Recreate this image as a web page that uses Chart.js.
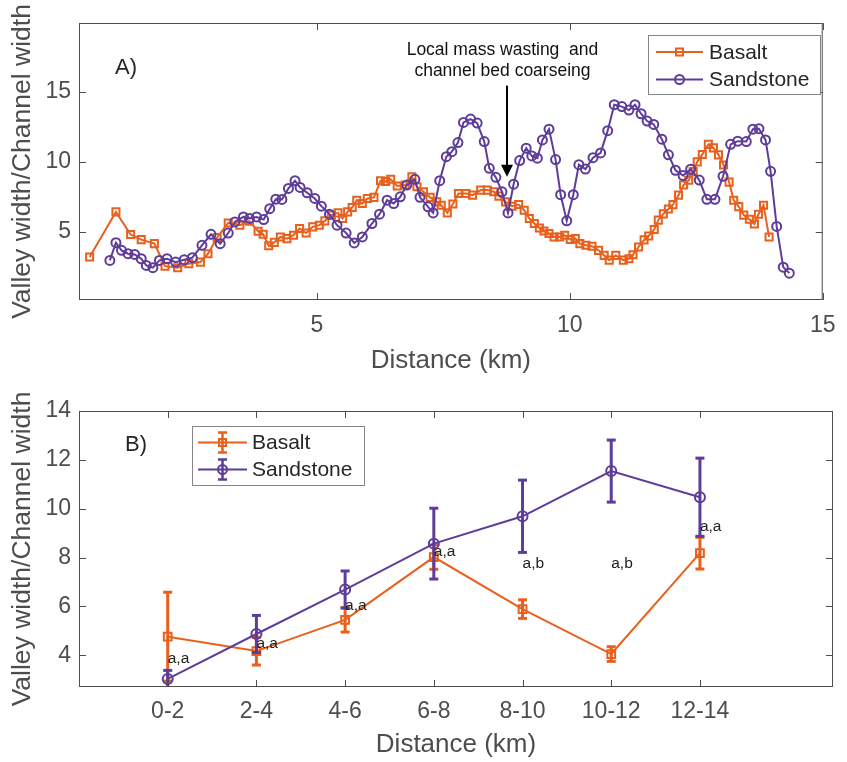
<!DOCTYPE html>
<html>
<head>
<meta charset="utf-8">
<script src="https://cdn.jsdelivr.net/npm/chart.js@4/dist/chart.umd.min.js"></script>
<style>
	body { margin: 0; background: #fff; }
	.panel { position: absolute; left: 0; }
</style>
</head>
<body>
<div class="panel" style="top:0"><canvas id="chartA" width="847" height="380"></canvas></div>
<div class="panel" style="top:380px"><canvas id="chartB" width="847" height="382"></canvas></div>
<script>
// A) valley/channel width ratio along the profile
const basaltKm = [0.51, 1.03, 1.32, 1.53, 1.79, 2.00, 2.25, 2.47, 2.70, 2.85, 3.03, 3.25, 3.48, 3.67, 3.84, 3.94,
	4.05, 4.16, 4.28, 4.41, 4.54, 4.66, 4.79, 4.92, 5.05, 5.16, 5.29, 5.42, 5.51, 5.61, 5.70, 5.79, 5.90, 6.00,
	6.13, 6.26, 6.36, 6.46, 6.59, 6.75, 6.88, 6.98, 7.11, 7.24, 7.37, 7.46, 7.58, 7.69, 7.80, 7.95, 8.08, 8.24,
	8.37, 8.50, 8.60, 8.73, 8.86, 8.99, 9.10, 9.20, 9.30, 9.40, 9.49, 9.59, 9.69, 9.80, 9.90, 10.01, 10.11,
	10.20, 10.32, 10.44, 10.57, 10.68, 10.78, 10.91, 11.06, 11.17, 11.25, 11.36, 11.47, 11.56, 11.67, 11.75,
	11.85, 11.95, 12.04, 12.15, 12.25, 12.35, 12.44, 12.52, 12.62, 12.74, 12.84, 12.94, 13.04, 13.15, 13.24,
	13.34, 13.44, 13.55, 13.65, 13.73, 13.83, 13.94];
const basaltRatio = [3.19, 6.42, 4.80, 4.44, 4.15, 2.54, 2.43, 2.72, 2.83, 3.43, 4.58, 5.63, 5.47, 5.75, 5.04, 4.82,
	4.00, 4.24, 4.63, 4.51, 4.75, 5.23, 4.91, 5.35, 5.47, 5.78, 6.19, 6.35, 5.95, 6.42, 6.74, 7.26, 7.02, 7.38,
	7.46, 8.65, 8.60, 8.75, 8.27, 8.34, 8.94, 8.22, 7.86, 7.46, 7.14, 6.90, 6.35, 6.98, 7.74, 7.74, 7.62, 7.98,
	7.98, 7.86, 7.55, 7.14, 6.83, 6.95, 6.54, 5.95, 5.59, 5.27, 5.06, 4.87, 4.63, 4.63, 4.75, 4.45, 4.51,
	4.15, 4.03, 3.97, 3.67, 3.31, 2.97, 3.31, 2.97, 3.07, 3.35, 3.91, 4.42, 4.70, 5.16, 5.83,
	6.28, 6.63, 6.94, 7.62, 8.34, 8.68, 9.30, 10.00, 10.53, 11.25, 11.00, 10.50, 9.78, 8.55, 7.26,
	6.80, 6.19, 5.90, 5.56, 6.25, 6.90, 4.63];

const sandKm = [0.91, 1.03, 1.14, 1.27, 1.40, 1.53, 1.63, 1.76, 1.89, 2.04, 2.21, 2.38, 2.54, 2.73, 2.91, 3.09,
	3.25, 3.38, 3.55, 3.67, 3.81, 3.95, 4.07, 4.19, 4.31, 4.44, 4.57, 4.67, 4.81, 4.96, 5.09, 5.25, 5.40, 5.58,
	5.74, 5.90, 6.09, 6.24, 6.39, 6.52, 6.65, 6.78, 6.94, 7.04, 7.20, 7.30, 7.43, 7.56, 7.67, 7.79, 7.90, 8.04,
	8.17, 8.31, 8.41, 8.54, 8.66, 8.78, 8.89, 9.01, 9.14, 9.25, 9.36, 9.46, 9.59, 9.72, 9.82, 9.94, 10.07,
	10.18, 10.31, 10.46, 10.61, 10.75, 10.88, 11.03, 11.17, 11.29, 11.41, 11.53, 11.66, 11.82, 11.95, 12.09,
	12.24, 12.39, 12.56, 12.71, 12.87, 13.03, 13.18, 13.32, 13.49, 13.62, 13.74, 13.87, 13.97, 14.09, 14.22, 14.34];
const sandRatio = [2.95, 4.22, 3.67, 3.43, 3.38, 3.07, 2.59, 2.43, 2.95, 3.07, 2.83, 3.00, 3.15, 4.03, 4.82, 4.15,
	4.91, 5.70, 6.06, 5.95, 6.06, 5.87, 6.65, 7.33, 7.31, 8.10, 8.65, 8.17, 7.79, 7.38, 6.83, 6.26, 5.47, 4.91,
	4.20, 4.63, 5.59, 6.26, 7.26, 7.02, 7.50, 8.34, 8.75, 7.46, 6.78, 6.35, 8.65, 10.37, 10.73, 11.38, 12.82, 13.06,
	12.77, 11.45, 9.54, 8.89, 7.86, 6.35, 8.40, 10.09, 10.98, 10.42, 10.26, 11.57, 12.34, 10.16, 7.65, 5.78, 7.65,
	9.80, 9.48, 10.30, 10.64, 12.23, 14.09, 13.95, 13.70, 14.09, 13.44, 12.92, 12.68, 11.62, 10.50, 9.40,
	9.02, 9.47, 8.70, 7.32, 7.32, 8.97, 11.25, 11.48, 11.45, 12.34, 12.37, 11.57, 9.32, 5.38, 2.47, 2.04];

const kmTicks = [5, 10, 15];
const ratioTicksA = [5, 10, 15];
const noteLines = ['Local mass wasting  and', 'channel bed coarseing'];

// B) means per 2 km bin
const bins = ['0-2', '2-4', '4-6', '6-8', '8-10', '10-12', '12-14'];
const basaltMean = [4.76, 4.17, 5.45, 8.02, 5.89, 4.05, 8.18];
const basaltErr = [1.82, 0.57, 0.50, 0.50, 0.38, 0.30, 0.65];
const sandMean = [3.03, 4.87, 6.69, 8.57, 9.69, 11.54, 10.47];
const sandErr = [0.35, 0.76, 0.76, 1.45, 1.48, 1.27, 1.60];
const groupLetters = ['a,a', 'a,a', 'a,a', 'a,a', 'a,b', 'a,b', 'a,a'];
const letterRatio = [3.84, 4.46, 6.01, 8.23, 7.76, 7.76, 9.28];
const ratioTicksB = [4, 6, 8, 10, 12, 14];

const ORANGE = '#e8601c';
const PURPLE = '#5e3c99';
const AXIS = '#4d4d4d';
const FONT = '"Liberation Sans", Arial, Helvetica, sans-serif';

const pts = (xs, ys) => xs.map((v, i) => ({ x: v, y: ys[i] }));

function line(ctx, x1, y1, x2, y2) {
	ctx.beginPath();
	ctx.moveTo(x1, y1);
	ctx.lineTo(x2, y2);
	ctx.stroke();
}

function marker(ctx, style, x, y, r) {
	ctx.beginPath();
	if (style === 'rect') {
		const s = r * Math.SQRT1_2;
		ctx.rect(x - s, y - s, 2 * s, 2 * s);
	} else {
		ctx.arc(x, y, r, 0, Math.PI * 2);
	}
	ctx.stroke();
}

// box round the plot with inward ticks on all four sides
const frame = {
	id: 'frame',
	afterDraw(chart) {
		const { ctx, chartArea: a, scales } = chart;
		ctx.save();
		ctx.strokeStyle = AXIS;
		ctx.lineWidth = 1;
		ctx.strokeRect(a.left + 0.5, a.top + 0.5, a.width - 1, a.height - 1);
		scales.x.ticks.forEach(function (t) {
			const px = Math.round(scales.x.getPixelForValue(t.value)) + 0.5;
			line(ctx, px, a.bottom, px, a.bottom - 7);
			line(ctx, px, a.top, px, a.top + 7);
		});
		scales.y.ticks.forEach(function (t) {
			const py = Math.round(scales.y.getPixelForValue(t.value)) + 0.5;
			line(ctx, a.left, py, a.left + 7, py);
			line(ctx, a.right, py, a.right - 7, py);
		});
		ctx.restore();
	}
};

// legend box inside the axes
const boxLegend = {
	id: 'boxLegend',
	afterDraw(chart, args, opts) {
		const ctx = chart.ctx;
		const b = opts.box;
		ctx.save();
		ctx.fillStyle = '#fff';
		ctx.fillRect(b[0], b[1], b[2], b[3]);
		ctx.strokeStyle = '#858585';
		ctx.lineWidth = 1;
		ctx.strokeRect(b[0] + 0.5, b[1] + 0.5, b[2], b[3]);
		opts.items.forEach(function (it, i) {
			const y = opts.rowY[i];
			const mid = (opts.lineX[0] + opts.lineX[1]) / 2;
			ctx.strokeStyle = it.color;
			ctx.lineWidth = 2;
			line(ctx, opts.lineX[0], y, opts.lineX[1], y);
			if (opts.errorBar) {
				ctx.lineWidth = 2.5;
				line(ctx, mid, y - 10, mid, y + 10);
				line(ctx, mid - 4.5, y - 10, mid + 4.5, y - 10);
				line(ctx, mid - 4.5, y + 10, mid + 4.5, y + 10);
			}
			ctx.lineWidth = 2;
			marker(ctx, it.style, mid, y, it.r);
			ctx.fillStyle = '#262626';
			ctx.font = '21px ' + FONT;
			ctx.textBaseline = 'middle';
			ctx.fillText(it.label, opts.textX, y + 1);
		});
		ctx.restore();
	}
};

// panel letter and free text
const notes = {
	id: 'notes',
	afterDraw(chart, args, opts) {
		const { ctx, chartArea: a, scales } = chart;
		ctx.save();
		ctx.fillStyle = '#262626';
		ctx.textBaseline = 'middle';
		ctx.font = '22px ' + FONT;
		ctx.fillText(opts.panel, a.left + opts.panelAt[0], a.top + opts.panelAt[1]);
		if (opts.arrow) {
			const ar = opts.arrow;
			ctx.font = '17.5px ' + FONT;
			ctx.textAlign = 'center';
			ctx.fillStyle = '#111';
			noteLines.forEach(function (s, i) {
				ctx.fillText(s, scales.x.getPixelForValue(ar.textX), scales.y.getPixelForValue(ar.textY[i]));
			});
			const x = scales.x.getPixelForValue(ar.x);
			const y0 = scales.y.getPixelForValue(ar.from);
			const y1 = scales.y.getPixelForValue(ar.to);
			ctx.strokeStyle = '#000';
			ctx.fillStyle = '#000';
			ctx.lineWidth = 2;
			line(ctx, x, y0, x, y1 - 10);
			ctx.beginPath();
			ctx.moveTo(x, y1);
			ctx.lineTo(x - 6, y1 - 12);
			ctx.lineTo(x + 6, y1 - 12);
			ctx.closePath();
			ctx.fill();
		}
		if (opts.letters) {
			ctx.font = '15.5px ' + FONT;
			ctx.textAlign = 'left';
			ctx.fillStyle = '#222';
			groupLetters.forEach(function (s, i) {
				ctx.fillText(s, scales.x.getPixelForValue(i + 1), scales.y.getPixelForValue(letterRatio[i]));
			});
		}
		ctx.restore();
	}
};

// vertical error bars, drawn right after their own series
const errorBars = {
	id: 'errorBars',
	afterDatasetDraw(chart, args) {
		const ds = chart.data.datasets[args.index];
		if (!ds.errors) return;
		const { ctx, chartArea: a, scales } = chart;
		ctx.save();
		ctx.beginPath();
		ctx.rect(a.left, a.top, a.width, a.height);
		ctx.clip();
		ctx.strokeStyle = ds.borderColor;
		ctx.lineWidth = 3;
		ds.data.forEach(function (p, i) {
			const x = scales.x.getPixelForValue(p.x);
			const hi = scales.y.getPixelForValue(p.y + ds.errors[i]);
			const lo = scales.y.getPixelForValue(p.y - ds.errors[i]);
			line(ctx, x, hi, x, lo);
			line(ctx, x - 4.5, hi, x + 4.5, hi);
			line(ctx, x - 4.5, lo, x + 4.5, lo);
		});
		ctx.restore();
	}
};

function setTicks(values) {
	return function (scale) {
		scale.ticks = values.map(function (v) { return { value: v }; });
	};
}

function axes(xOpt, yOpt) {
	return {
		x: Object.assign({
			type: 'linear',
			grid: { display: false, drawTicks: false },
			border: { display: false },
			ticks: { color: AXIS, font: { family: FONT, size: 23 }, padding: 11.5, maxRotation: 0, autoSkip: false },
			title: { display: true, text: 'Distance (km)', color: AXIS, font: { family: FONT, size: 26 } }
		}, xOpt),
		y: Object.assign({
			type: 'linear',
			grid: { display: false, drawTicks: false },
			border: { display: false },
			ticks: { color: AXIS, font: { family: FONT, size: 23 }, padding: 8 },
			title: { display: true, text: 'Valley width/Channel width', color: AXIS, font: { family: FONT, size: 26.5 }, padding: { top: 7.2 } },
			afterFit: function (s) { s.width = 79; }
		}, yOpt)
	};
}

const base = {
	responsive: false,
	animation: false,
	events: [],
	plugins: { legend: { display: false }, tooltip: { enabled: false } }
};

new Chart(document.getElementById('chartA'), {
	type: 'line',
	data: {
		datasets: [
			{
				data: pts(sandKm, sandRatio), order: 0,
				borderColor: PURPLE, borderWidth: 2,
				pointStyle: 'circle', pointRadius: 4.5, pointBorderWidth: 2,
				pointBorderColor: PURPLE, pointBackgroundColor: 'rgba(0,0,0,0)'
			},
			{
				data: pts(basaltKm, basaltRatio), order: 1,
				borderColor: ORANGE, borderWidth: 2,
				pointStyle: 'rect', pointRadius: 5, pointBorderWidth: 2,
				pointBorderColor: ORANGE, pointBackgroundColor: 'rgba(0,0,0,0)'
			}
		]
	},
	options: Object.assign({}, base, {
		layout: { padding: { top: 23, right: 14, left: 0, bottom: 0 } },
		scales: axes(
			{ min: 0.3, max: 15, afterBuildTicks: setTicks(kmTicks), afterFit: function (s) { s.height = 80; } },
			{ min: 0.12, max: 19.93, afterBuildTicks: setTicks(ratioTicksA) }
		),
		plugins: Object.assign({}, base.plugins, {
			boxLegend: {
				box: [648, 35, 172, 59], rowY: [52, 79.5], lineX: [656, 703], textX: 709,
				items: [
					{ label: 'Basalt', color: ORANGE, style: 'rect', r: 5 },
					{ label: 'Sandstone', color: PURPLE, style: 'circle', r: 4.5 }
				]
			},
			notes: {
				panel: 'A)', panelAt: [36, 45],
				arrow: { x: 8.76, from: 15.45, to: 8.94, textX: 8.67, textY: [17.97, 16.48] }
			}
		})
	}),
	plugins: [frame, boxLegend, notes]
});

new Chart(document.getElementById('chartB'), {
	type: 'line',
	data: {
		datasets: [
			{
				data: pts([1, 2, 3, 4, 5, 6, 7], sandMean), errors: sandErr, order: 0,
				borderColor: PURPLE, borderWidth: 2,
				pointStyle: 'circle', pointRadius: 5, pointBorderWidth: 2,
				pointBorderColor: PURPLE, pointBackgroundColor: 'rgba(0,0,0,0)'
			},
			{
				data: pts([1, 2, 3, 4, 5, 6, 7], basaltMean), errors: basaltErr, order: 1,
				borderColor: ORANGE, borderWidth: 2,
				pointStyle: 'rect', pointRadius: 5.5, pointBorderWidth: 2,
				pointBorderColor: ORANGE, pointBackgroundColor: 'rgba(0,0,0,0)'
			}
		]
	},
	options: Object.assign({}, base, {
		layout: { padding: { top: 31, right: 14, left: 0, bottom: 0 } },
		scales: axes(
			{
				min: 0, max: 8.5,
				afterBuildTicks: setTicks([1, 2, 3, 4, 5, 6, 7]),
				afterFit: function (s) { s.height = 75; },
				ticks: {
					color: AXIS, font: { family: FONT, size: 23 }, padding: 11.2, maxRotation: 0, autoSkip: false,
					callback: function (v, i) { return bins[i]; }
				},
				title: { display: true, text: 'Distance (km)', color: AXIS, font: { family: FONT, size: 26 }, padding: { bottom: 1.5 } }
			},
			{ min: 2.7, max: 14, afterBuildTicks: setTicks(ratioTicksB) }
		),
		plugins: Object.assign({}, base.plugins, {
			boxLegend: {
				box: [192, 46, 172, 59], rowY: [62.5, 89.5], lineX: [198, 247], textX: 252, errorBar: true,
				items: [
					{ label: 'Basalt', color: ORANGE, style: 'rect', r: 5 },
					{ label: 'Sandstone', color: PURPLE, style: 'circle', r: 4.5 }
				]
			},
			notes: { panel: 'B)', panelAt: [46, 34], letters: true }
		})
	}),
	plugins: [frame, errorBars, boxLegend, notes]
});
</script>
</body>
</html>
